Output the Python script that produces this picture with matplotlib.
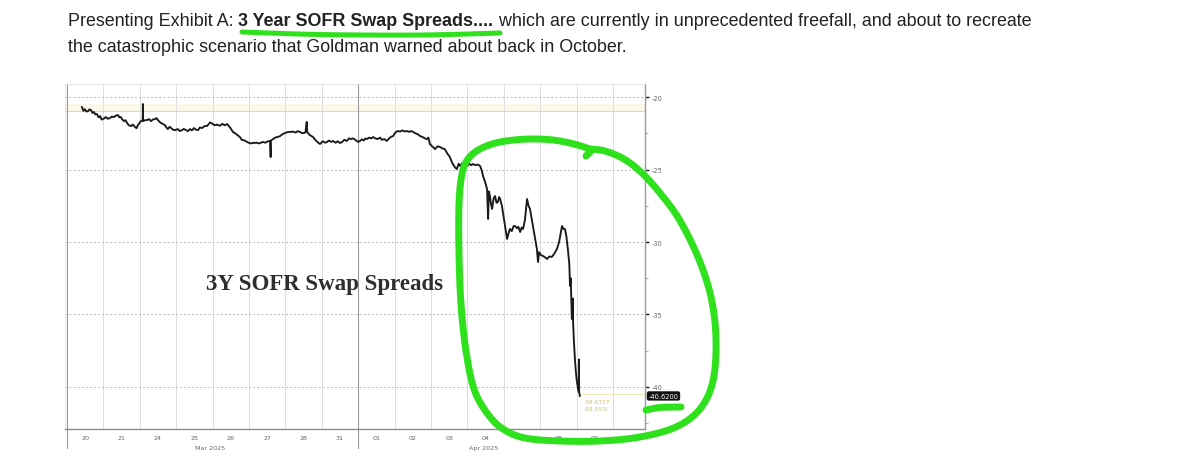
import numpy as np
import matplotlib
matplotlib.use("Agg")
import matplotlib.pyplot as plt
import matplotlib.transforms as mtransforms
from matplotlib.lines import Line2D

# ---------------- data ----------------
day_labels = ['20', '21', '24', '25', '26', '27', '28', '31',
              '01', '02', '03', '04', '07', '08', '09']
month_labels = ['Mar 2025', 'Apr 2025']
month_centers = [3.93, 11.46]          # trading-day position of month captions
y_ticks = [-20, -25, -30, -35, -40]
ref_level = -20.97                      # yellow reference line near the top
last_value = -40.62
last_label = '-40.6200'
side_texts = ['-39.6337', '-93.55%']

# time in trading days since 20 Mar 2025 open, spread in bp
t = [0.41, 0.45, 0.49, 0.53, 0.58, 0.62, 0.66, 0.70, 0.74, 0.78, 0.82, 0.87, 0.91, 0.95, 0.99,
     1.07, 1.12, 1.18, 1.23, 1.29, 1.34, 1.40, 1.44, 1.48, 1.52, 1.57, 1.61, 1.65, 1.70, 1.76, 1.81, 1.87, 1.91, 1.95,
     2.03, 2.08, 2.085, 2.09, 2.14, 2.20, 2.25, 2.31, 2.36, 2.42, 2.46, 2.50, 2.54, 2.58, 2.63, 2.69, 2.73, 2.77, 2.82, 2.86, 2.91, 2.97,
     3.05, 3.10, 3.16, 3.21, 3.27, 3.32, 3.38, 3.43, 3.49, 3.54, 3.60, 3.65, 3.71, 3.78, 3.85,
     3.93, 4.00, 4.06, 4.12, 4.20, 4.27, 4.33, 4.40, 4.48, 4.56, 4.62, 4.68, 4.75, 4.80, 4.88, 4.95,
     5.03, 5.11, 5.20, 5.28, 5.38, 5.45, 5.52, 5.58, 5.595, 5.60, 5.66, 5.72, 5.77, 5.85, 5.93,
     6.02, 6.08, 6.13, 6.20, 6.28, 6.34, 6.40, 6.47, 6.55, 6.585, 6.60, 6.66, 6.72, 6.76, 6.82, 6.88, 6.95,
     7.03, 7.09, 7.14, 7.20, 7.26, 7.31, 7.38, 7.44, 7.50, 7.56, 7.62, 7.69, 7.75, 7.80, 7.86, 7.92,
     8.00, 8.05, 8.10, 8.15, 8.20, 8.24, 8.30, 8.36, 8.41, 8.47, 8.53, 8.60, 8.65, 8.72, 8.79, 8.85, 8.90, 8.96,
     9.02, 9.09, 9.15, 9.22, 9.28, 9.34, 9.40, 9.46, 9.51, 9.57, 9.63, 9.70, 9.76, 9.83, 9.89, 9.93,
     9.97, 10.03, 10.08, 10.11, 10.18, 10.25, 10.32, 10.38, 10.45, 10.52, 10.56, 10.60, 10.66, 10.71, 10.76, 10.80, 10.86, 10.92,
     10.99, 11.05, 11.10, 11.15, 11.22, 11.29, 11.35, 11.40, 11.43, 11.48, 11.54, 11.57, 11.59, 11.62, 11.65, 11.68, 11.72, 11.76, 11.80, 11.84, 11.87, 11.90, 11.95,
     12.09, 12.13, 12.17, 12.22, 12.27, 12.31, 12.36, 12.40, 12.45, 12.49, 12.53, 12.58, 12.64, 12.68, 12.72, 12.76, 12.80, 12.85, 12.91, 12.94, 12.97,
     13.02, 13.08, 13.13, 13.19, 13.25, 13.32, 13.39, 13.46, 13.52, 13.57, 13.60, 13.64, 13.68, 13.72, 13.76, 13.80, 13.82, 13.84, 13.87, 13.89, 13.90, 13.905, 13.93, 13.96, 13.99, 14.01,
     14.04, 14.06, 14.065, 14.07, 14.09]
v = [-20.69, -20.95, -20.83, -21.00, -20.97, -20.85, -20.90, -21.10, -21.03, -21.20, -21.17, -21.40, -21.31, -21.55, -21.52,
     -21.38, -21.50, -21.45, -21.35, -21.38, -21.28, -21.24, -21.40, -21.38, -21.55, -21.66, -21.60, -21.79, -21.95, -22.00, -21.90, -22.07, -22.15, -21.93,
     -21.66, -21.59, -20.48, -21.66, -21.60, -21.59, -21.52, -21.66, -21.55, -21.52, -21.45, -21.59, -21.70, -21.79, -21.85, -21.93, -22.10, -22.21, -22.05, -22.14, -22.25, -22.28,
     -22.21, -22.35, -22.28, -22.20, -22.28, -22.35, -22.21, -22.30, -22.14, -22.25, -22.28, -22.10, -22.14, -22.00, -22.00,
     -21.75, -21.85, -21.95, -21.90, -21.98, -21.85, -21.95, -21.86, -22.10, -22.41, -22.50, -22.62, -22.76, -22.95, -23.00, -23.10,
     -23.20, -23.17, -23.15, -23.20, -23.10, -23.15, -23.05, -23.03, -24.14, -23.00, -22.90, -22.80, -22.76, -22.70, -22.55,
     -22.45, -22.41, -22.41, -22.38, -22.45, -22.35, -22.41, -22.50, -22.45, -21.72, -22.40, -22.60, -22.70, -22.76, -22.95, -23.10, -23.24,
     -23.05, -23.15, -23.10, -23.00, -23.10, -23.03, -23.15, -23.05, -23.17, -23.10, -22.95, -23.03, -22.85, -22.90, -22.85, -22.95,
     -23.10, -23.03, -22.92, -23.00, -22.85, -22.90, -22.80, -22.85, -22.76, -22.85, -22.90, -22.80, -22.95, -22.90, -23.03, -22.85, -22.75, -22.69,
     -22.45, -22.34, -22.38, -22.30, -22.38, -22.34, -22.40, -22.35, -22.41, -22.50, -22.55, -22.69, -22.75, -22.85, -22.90, -22.80,
     -23.24, -23.40, -23.50, -23.59, -23.40, -23.45, -23.55, -23.59, -23.90, -24.14, -24.40, -24.62, -24.85, -24.97, -24.60, -24.76, -24.55, -24.70,
     -24.76, -24.60, -24.70, -24.62, -24.70, -24.65, -24.76, -25.10, -25.45, -25.80, -26.34, -28.41, -26.50, -26.83, -27.40, -27.72, -27.00, -26.83, -27.30, -27.24, -26.90, -27.03, -27.52,
     -29.79, -29.40, -29.10, -29.25, -28.90, -28.90, -29.05, -28.95, -29.31, -29.00, -29.10, -28.50, -27.03, -27.50, -27.72, -28.30, -28.90, -29.60, -30.48, -31.38, -30.70,
     -30.90, -30.97, -31.05, -31.17, -31.00, -31.03, -30.80, -30.48, -30.00, -29.30, -28.90, -29.10, -29.10, -29.60, -30.48, -31.50, -33.03, -32.50, -35.31, -34.80, -33.90, -35.60, -37.00, -38.28, -39.20, -39.66,
     -40.10, -40.34, -38.10, -40.34, -40.62]

W, H, DPI = 1200, 460, 100
fig = plt.figure(figsize=(W / DPI, H / DPI), dpi=DPI)
fig.patch.set_facecolor('white')

# ---------------- chart ----------------
ax = fig.add_axes([65 / W, 30 / H, 580 / W, 345 / H])
ax.set_facecolor('white')
n_days = len(day_labels)
ax.set_xlim(-0.055, n_days + 0.88)
ax.set_ylim(-42.9, -19.1)

for b in range(1, n_days + 1):
    ax.axvline(b, color='#dcdcdc', lw=0.7, zorder=1)
for yv in y_ticks:
    ax.axhline(yv, color='#b8b8b8', lw=0.7, ls=(0, (2, 2.2)), zorder=1)

ax.axhspan(ref_level, ref_level + 0.5, color='#fbf9ea', zorder=0.5, lw=0)
ax.axhline(ref_level, color='#e2dba0', lw=0.8, zorder=1.5)

ax.plot(t, v, color='#1a1a1a', lw=1.35, zorder=3, solid_joinstyle='round')

# last-value guide
ax.plot([t[-1], ax.get_xlim()[1]], [last_value + 0.15] * 2, color='#ece6b8', lw=0.8, zorder=2)
for k, s in enumerate(side_texts):
    ax.text(t[-1] + 0.12, last_value - 0.35 - 0.55 * k, s, fontsize=4.2,
            color='#cbbd70', va='center', ha='left', zorder=4)

# axes styling
for side in ['left', 'top']:
    ax.spines[side].set_color('#e0e0e0')
    ax.spines[side].set_linewidth(0.6)
ax.spines['bottom'].set_color('#8a8a8a')
ax.spines['bottom'].set_linewidth(1.0)
ax.spines['right'].set_color('#9a9a9a')
ax.spines['right'].set_linewidth(1.0)

ax.yaxis.tick_right()
ax.set_yticks(y_ticks)
ax.set_yticklabels([str(y) for y in y_ticks])
ax.set_yticks(np.arange(-42.5, -19.0, 2.5), minor=True)
ax.tick_params(axis='y', which='major', length=3, width=1.0, color='#222222',
               labelsize=4.8, labelcolor='#666666', pad=1.5)
ax.tick_params(axis='y', which='minor', length=2, width=0.6, color='#999999')

ax.set_xticks([i + 0.5 for i in range(n_days)])
ax.set_xticklabels(day_labels)
ax.tick_params(axis='x', length=0, labelsize=4.6, labelcolor='#666666', pad=4)

# day separators extending below axis at start and month change
trans_xa = mtransforms.blended_transform_factory(ax.transData, ax.transAxes)
for b in [0, 8]:
    ax.add_line(Line2D([b, b], [-0.055, 1.0], transform=trans_xa,
                       color='#9a9a9a', lw=0.8, clip_on=False, zorder=2))
for lab, c in zip(month_labels, month_centers):
    ax.text(c, -0.045, lab, transform=trans_xa, fontsize=4.6, color='#666666',
            ha='center', va='top')

# last value tag
trans_ay = mtransforms.blended_transform_factory(ax.transAxes, ax.transData)
ax.text(1.006, last_value, last_label, transform=trans_ay, fontsize=4.8,
        color='white', ha='left', va='center', zorder=5,
        bbox=dict(boxstyle='round,pad=0.25,rounding_size=0.3', fc='#111111', ec='none'))

ax.text(0.448, 0.423, '3Y SOFR Swap Spreads', transform=ax.transAxes,
        fontsize=16.5, family='Liberation Serif', weight='bold', color='#2e2e2e',
        ha='center', va='center', zorder=4)

# ---------------- page text & hand annotations ----------------
ov = fig.add_axes([0, 0, 1, 1], facecolor='none', zorder=10)
ov.set_xlim(0, W)
ov.set_ylim(H, 0)
ov.axis('off')

renderer = fig.canvas.get_renderer()
fs = 12.9
x0 = 68
parts = [('Presenting Exhibit A: ', 'normal'),
         ('3 Year SOFR Swap Spreads....', 'bold'),
         (' which are currently in unprecedented freefall, and about to recreate', 'normal')]
for s, wgt in parts:
    tx = ov.text(x0, 22, s, fontsize=fs, family='Liberation Sans', weight=wgt,
                 color='#222222', va='center', ha='left')
    bb = tx.get_window_extent(renderer)
    x0 += bb.width
ov.text(68, 47, 'the catastrophic scenario that Goldman warned about back in October.',
        fontsize=fs, family='Liberation Sans', color='#222222', va='center', ha='left')


def smooth(pts, n=20, closed=False):
    p = np.asarray(pts, float)
    if closed:
        p = np.vstack([p[-1], p, p[0], p[1]])
    else:
        p = np.vstack([p[0], p, p[-1]])
    out = []
    for i in range(1, len(p) - 2):
        p0, p1, p2, p3 = p[i - 1], p[i], p[i + 1], p[i + 2]
        for s in np.linspace(0, 1, n, endpoint=False):
            s2, s3 = s * s, s * s * s
            out.append(0.5 * ((2 * p1) + (-p0 + p2) * s + (2 * p0 - 5 * p1 + 4 * p2 - p3) * s2
                              + (-p0 + 3 * p1 - 3 * p2 + p3) * s3))
    out.append(p[-2])
    return np.array(out)


green = '#2fe01c'
under = smooth([(242, 33), (320, 35.5), (420, 36), (500, 34)])
ov.plot(under[:, 0], under[:, 1], color=green, lw=3.6, solid_capstyle='round')

loop = smooth([(586, 157), (589, 150), (560, 142), (530, 140), (500, 143), (480, 150),
               (468, 160), (462, 175), (459, 205), (459, 255), (461, 305), (466, 352),
               (474, 390), (487, 414), (503, 430), (525, 439), (560, 442), (600, 442),
               (640, 438), (676, 428), (700, 410), (713, 382), (716, 340), (711, 298),
               (698, 258), (679, 220), (660, 194), (642, 174), (624, 160), (605, 152), (590, 150)])
ov.plot(loop[:, 0], loop[:, 1], color=green, lw=5, solid_capstyle='round', solid_joinstyle='round')

dash = smooth([(646, 411), (660, 408.5), (681, 408)])
ov.plot(dash[:, 0], dash[:, 1], color=green, lw=5, solid_capstyle='round')

fig.savefig('out.png', dpi=DPI, facecolor='white')
